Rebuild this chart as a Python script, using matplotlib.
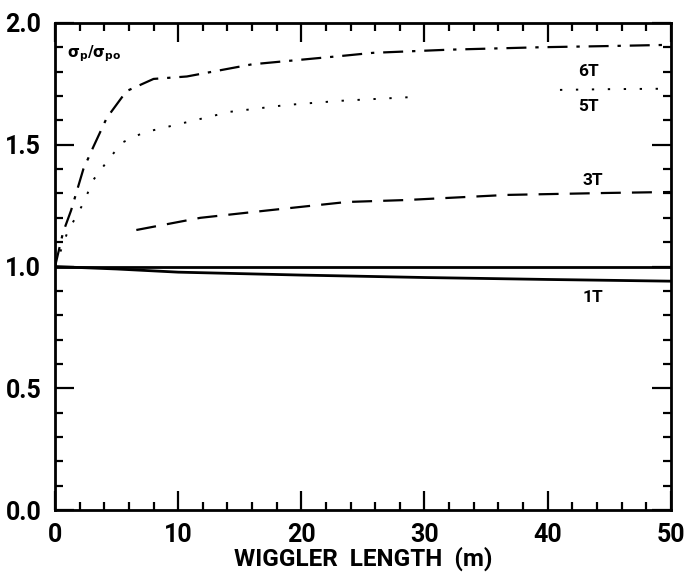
import matplotlib
matplotlib.use('Agg')
import matplotlib.pyplot as plt
from matplotlib.ticker import MultipleLocator

plt.rcParams['font.family'] = ['Roboto', 'DejaVu Sans']

# data
x_6t = [0, 0.65, 1.3, 2.3, 3.1, 4.2, 5.8, 8, 10.7, 16, 23.4, 25.8, 32, 39.4, 45, 50]
y_6t = [1.0, 1.14, 1.23, 1.40, 1.49, 1.61, 1.72, 1.77, 1.78, 1.83, 1.865, 1.877, 1.89, 1.90, 1.905, 1.91]

x_5t = [0, 1.0, 2.3, 3.1, 4.5, 5.5, 7.2, 10.5, 14.2, 18.8, 23.1, 29.5]
y_5t = [1.0, 1.14, 1.26, 1.355, 1.45, 1.51, 1.55, 1.59, 1.635, 1.663, 1.68, 1.697]
x_5t_b = [41, 45, 50]
y_5t_b = [1.725, 1.728, 1.73]

x_3t = [6.6, 11.8, 17.2, 23.7, 28.5, 36.7, 44.8, 50]
y_3t = [1.15, 1.20, 1.23, 1.265, 1.273, 1.294, 1.302, 1.306]

x_1t = [0, 5, 10, 20, 30, 40, 50]
y_1t = [1.0, 0.99, 0.977, 0.965, 0.955, 0.947, 0.94]

x_ref = [0, 50]
y_ref = [1.0, 1.0]

labels = ['6T', '5T', '3T', '1T']
label_x = [43.3, 43.3, 43.7, 43.7]
label_y = [1.80, 1.655, 1.355, 0.875]

fig = plt.figure(figsize=(6.88, 5.72), dpi=100)
ax = fig.add_axes([0.080, 0.108, 0.895, 0.852])

ax.plot(x_6t, y_6t, color='black', lw=1.6, dashes=(9, 4, 1.5, 4))
ax.plot(x_5t, y_5t, color='black', lw=1.4, dashes=(1.2, 7))
ax.plot(x_5t_b, y_5t_b, color='black', lw=1.4, dashes=(1.2, 7))
ax.plot(x_3t, y_3t, color='black', lw=1.6, dashes=(9, 5))
ax.plot(x_1t, y_1t, color='black', lw=2.0)
ax.plot(x_ref, y_ref, color='black', lw=2.0)

for t, lx, ly in zip(labels, label_x, label_y):
    ax.text(lx, ly, t, fontsize=12.5, fontweight='bold', ha='center', va='center')

ax.text(3.2, 1.875, r'$\mathbf{\sigma_p/\sigma_{po}}$', fontsize=11, ha='center', va='center')

ax.set_xlim(0, 50)
ax.set_ylim(0, 2.0)
ax.xaxis.set_major_locator(MultipleLocator(10))
ax.xaxis.set_minor_locator(MultipleLocator(2))
ax.yaxis.set_major_locator(MultipleLocator(0.5))
ax.yaxis.set_minor_locator(MultipleLocator(0.1))
ax.tick_params(which='both', direction='in', top=True, right=True, width=1.6)
ax.tick_params(which='major', length=14, labelsize=18)
ax.tick_params(axis='x', which='major', pad=9)
ax.tick_params(axis='y', which='major', pad=10)
ax.tick_params(which='minor', length=6)
ax.yaxis.set_major_formatter(plt.FormatStrFormatter('%.1f'))
for s in ax.spines.values():
    s.set_linewidth(2)

for lab in ax.get_xticklabels() + ax.get_yticklabels():
    lab.set_fontweight('bold')

ax.set_xlabel('WIGGLER  LENGTH  (m)', fontsize=17.5, fontweight='bold', labelpad=0)

fig.savefig('out.png', dpi=100)
